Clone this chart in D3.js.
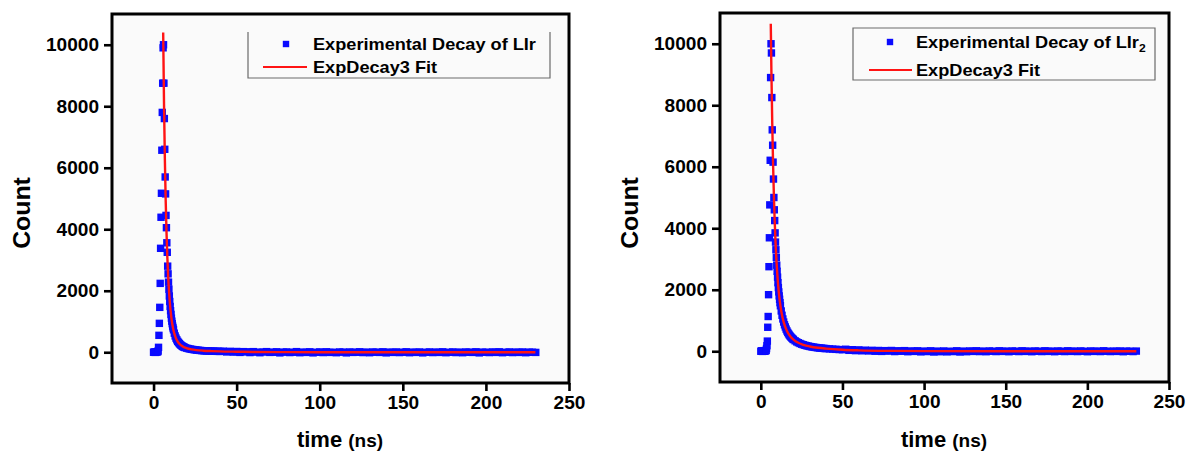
<!DOCTYPE html>
<html>
<head>
<meta charset="utf-8">
<script src="https://cdn.jsdelivr.net/npm/d3@7"></script>
<style>
  html, body { margin: 0; padding: 0; background: #fff; }
  svg { display: block; }
  text { font-family: "Liberation Sans", Arial, sans-serif; font-weight: bold; fill: #000; }
</style>
</head>
<body>
<svg id="chart" width="1186" height="452"></svg>
<script>
// Tick values shared by both panels
const xTicks = [0, 50, 100, 150, 200, 250];
const yTicks = [0, 2000, 4000, 6000, 8000, 10000];

// Legend entries
const lirLegend = ["Experimental Decay of LIr", "ExpDecay3 Fit"];
const lir2Legend = ["Experimental Decay of LIr", "ExpDecay3 Fit"];

// Experimental decay of LIr: [time (ns), count]
const lirPoints = [
  [0,0],[0.5,10],[1,-5],[1.5,15],[2,5],[2.5,15],[2.75,40],[3,160],[3.25,550],[3.5,940],
  [3.75,1460],[4,2240],[4.25,3380],[4.5,4390],[4.75,5170],[5,6570],[5.25,7800],[5.5,8750],[5.75,9900],
  [6,10000],[6.25,8750],[6.5,7600],[6.75,6600],[7,5700],[7.25,5150],[7.5,4450],[7.75,4050],[8,3560],
  [8.25,3250],[8.5,2800],[8.75,2550],[9,2280],[9.25,2050],[9.5,1830],[9.75,1650],[10,1490],[10.25,1350],
  [10.5,1230],[10.75,1110],[11,1010],[11.25,930],[11.5,850],[11.75,790],[12,730],[12.5,620],[13,530],
  [13.5,460],[14,405],[14.5,355],[15,320],[15.5,285],[16,255],[16.5,230],[17,210],[17.5,190],[18,175],
  [18.5,162],[19,150],[20,132],[21,118],[22,105],[23,95],[24,86],
  [25,78],[26,70],[27,64],[28,58],[29,54],[30,50],[31,47],[32,44],[33,41],[34,38],[35,36],[36,34],[37,32],[38,30],[39,29],[40,27],
  [42,35],[44,10],[46,30],[48,5],[50,25],[52,-5],[54,20],[56,15],[58,-10],[60,20],[62,5],[64,-15],
  [66,10],[68,20],[70,-5],[72,0],[74,15],[76,-20],[78,5],[80,10],[82,-10],[84,0],[86,20],[88,-15],
  [90,5],[92,-5],[94,15],[96,-20],[98,0],[100,10],[102,-10],[104,15],[106,-5],[108,0],[110,-15],
  [112,10],[114,5],[116,-20],[118,10],[120,-5],[122,0],[124,15],[126,-10],[128,5],[130,-15],[132,10],
  [134,0],[136,-5],[138,15],[140,-20],[142,5],[144,-5],[146,10],[148,-10],[150,0],[152,15],[154,-15],
  [156,5],[158,-5],[160,10],[162,-20],[164,0],[166,10],[168,-10],[170,5],[172,-5],[174,15],[176,-15],
  [178,0],[180,10],[182,-10],[184,5],[186,-15],[188,10],[190,0],[192,-5],[194,15],[196,-20],[198,5],
  [200,0],[202,-10],[204,10],[206,-5],[208,15],[210,-15],[212,0],[214,10],[216,-10],[218,5],[220,-5],
  [222,10],[224,-15],[226,5],[228,0],[230,-5]
];

// ExpDecay3 fit of LIr
const lirFit = [
  [5.8,10400],[6.3,8081],[6.8,6308],[7.3,4948],[7.8,3900],[8.3,3093],[8.8,2471],[9.8,1612],
  [10.8,1089],[11.8,762],[12.8,554],[13.8,418],[15.8,261],[17.8,180],[19.8,135],[22.8,94],
  [25.8,70],[29.8,51],[34.8,37],[39.8,27],[49.8,17],[59.8,10],[79.8,4],[99.8,1],[149.8,0],[229.8,0]
];

// Experimental decay of LIr2: [time (ns), count]
const lir2Points = [
  [0,0],[0.5,15],[1,-5],[1.5,10],[2,20],[2.5,0],[3,15],[3.25,30],[3.5,90],[3.75,180],[4,330],
  [4.25,780],[4.5,1130],[4.75,1840],[5,2750],[5.25,3690],[5.5,4760],[5.75,6210],[6,8900],[6.25,10000],
  [6.5,9700],[6.75,8250],[7,7200],[7.25,6700],[7.5,6150],[7.75,5600],[8,5000],[8.25,4600],[8.5,4250],
  [8.75,3850],[9,3550],[9.25,3300],[9.5,3050],[9.75,2800],[10,2600],[10.25,2410],[10.5,2230],[10.75,2070],
  [11,1930],[11.25,1800],[11.5,1690],[11.75,1580],[12,1480],[12.5,1310],[13,1170],[13.5,1050],[14,950],
  [14.5,860],[15,790],[15.5,720],[16,660],[16.5,610],[17,565],[17.5,525],[18,490],[18.5,458],
  [19,430],[19.5,404],[20,380],[21,340],[22,305],[23,278],[24,252],[25,230],[26,212],[27,195],[28,180],[29,168],
  [30,156],[31,145],[32,135],[33,127],[34,120],[35,113],[36,106],[37,100],[38,95],[39,90],[40,86],
  [42,78],[44,70],[46,62],[48,56],[50,50],
  [52,65],[54,30],[56,50],[58,20],[60,45],[62,15],[64,35],[66,10],[68,30],[70,0],[72,25],[74,-5],
  [76,20],[78,5],[80,25],[82,-10],[84,15],[86,0],[88,20],[90,-15],[92,10],[94,-5],[96,15],[98,-20],
  [100,5],[102,-10],[104,15],[106,-25],[108,5],[110,-15],[112,10],[114,-20],[116,0],[118,-10],[120,15],
  [122,-25],[124,5],[126,-15],[128,10],[130,-5],[132,15],[134,-10],[136,5],[138,-15],[140,10],[142,0],
  [144,-10],[146,15],[148,-5],[150,5],[152,-15],[154,10],[156,0],[158,-10],[160,15],[162,-5],[164,5],
  [166,-15],[168,10],[170,0],[172,-10],[174,15],[176,-5],[178,5],[180,-15],[182,10],[184,0],[186,-10],
  [188,15],[190,-5],[192,5],[194,-10],[196,10],[198,0],[200,-15],[202,10],[204,-5],[206,5],[208,-10],
  [210,15],[212,0],[214,-10],[216,5],[218,-5],[220,10],[222,-15],[224,5],[226,0],[228,-10],[230,5]
];

// ExpDecay3 fit of LIr2
const lir2Fit = [
  [6.1,10650],[6.5,9042],[7,7408],[7.5,6107],[8,5066],[8.5,4233],[9,3563],[10,2580],[11,1926],
  [12,1481],[13,1171],[14,947],[16,660],[18,490],[20,381],[23,277],[26,211],[30,156],[35,113],
  [40,86],[50,50],[60,30],[80,11],[100,4],[150,0],[230,0]
];

const svg = d3.select("#chart");
const BLUE = "#0a0aff";
const RED = "#ff1414";
const MARK = 7.4;

// Widen text horizontally to the proportions of the printed figure
function stretch(sel, k) {
  sel.each(function () {
    const len = this.getComputedTextLength();
    this.setAttribute("textLength", len * k);
    this.setAttribute("lengthAdjust", "spacingAndGlyphs");
  });
}

const panels = [
  {
    points: lirPoints, fit: lirFit, legend: lirLegend, sub: null,
    left: 112, right: 569, top: 14, bottom: 383,
    countX: 30, countY: 213, timeX: 340,
    box: { x0: 248, x1: 550, y0: 32, y1: 78, openTop: true },
    mark: { x: 286, y: 44 }, line: { x0: 263, x1: 307, y: 67 }, textX: 313, row1: 50, row2: 73
  },
  {
    points: lir2Points, fit: lir2Fit, legend: lir2Legend, sub: "2",
    left: 720, right: 1169, top: 13, bottom: 382,
    countX: 638, countY: 213, timeX: 944,
    box: { x0: 853, x1: 1155, y0: 28, y1: 80, openTop: false },
    mark: { x: 890, y: 42 }, line: { x0: 869, x1: 912, y: 70 }, textX: 916, row1: 48, row2: 76
  }
];

panels.forEach(p => {
  const x = d3.scaleLinear().domain([-25, 250]).range([p.left, p.right]);
  const y = d3.scaleLinear().domain([-1000, 11000]).range([p.bottom, p.top]);
  const g = svg.append("g");

  // plot area
  g.append("rect")
    .attr("x", p.left).attr("y", p.top)
    .attr("width", p.right - p.left).attr("height", p.bottom - p.top)
    .attr("fill", "#fafafa");

  // legend box
  const b = p.box;
  g.append("path")
    .attr("d", b.openTop
      ? `M${b.x0},${b.y0}V${b.y1}H${b.x1}V${b.y0}`
      : `M${b.x0},${b.y0}V${b.y1}H${b.x1}V${b.y0}Z`)
    .attr("fill", "none").attr("stroke", "#6a6a6a").attr("stroke-width", 1.2);

  // experimental points
  g.append("g").selectAll("rect").data(p.points).join("rect")
    .attr("x", d => x(d[0]) - MARK / 2).attr("y", d => y(d[1]) - MARK / 2)
    .attr("width", MARK).attr("height", MARK)
    .attr("fill", BLUE);

  // fitted curve
  g.append("path").datum(p.fit)
    .attr("d", d3.line().x(d => x(d[0])).y(d => y(d[1])).curve(d3.curveMonotoneX))
    .attr("fill", "none").attr("stroke", RED).attr("stroke-width", 2.4);

  // y axis
  const ya = g.append("g").attr("transform", `translate(${p.left},0)`)
    .call(d3.axisLeft(y).tickValues(yTicks).tickSize(8).tickPadding(5).tickFormat(d3.format("d")));
  ya.select(".domain").remove();
  ya.selectAll("line").attr("stroke", "#000").attr("stroke-width", 2.6);
  ya.attr("font-family", null).attr("font-size", null);
  ya.selectAll("text").attr("font-size", 18).attr("fill", "#000");
  stretch(ya.selectAll("text"), 1.06);

  // x axis
  const xa = g.append("g").attr("transform", `translate(0,${p.bottom})`)
    .call(d3.axisBottom(x).tickValues(xTicks).tickSize(8).tickPadding(5).tickFormat(d3.format("d")));
  xa.select(".domain").remove();
  xa.selectAll("line").attr("stroke", "#000").attr("stroke-width", 2.6);
  xa.attr("font-family", null).attr("font-size", null);
  xa.selectAll("text").attr("font-size", 18).attr("fill", "#000");
  stretch(xa.selectAll("text"), 1.06);

  // frame
  g.append("rect")
    .attr("x", p.left).attr("y", p.top)
    .attr("width", p.right - p.left).attr("height", p.bottom - p.top)
    .attr("fill", "none").attr("stroke", "#000").attr("stroke-width", 3);

  // axis titles
  const ct = g.append("text")
    .attr("transform", `translate(${p.countX},${p.countY}) rotate(-90)`)
    .attr("text-anchor", "middle").attr("font-size", 23).text("Count");
  stretch(ct, 1.08);

  const tt = g.append("text")
    .attr("x", p.timeX).attr("y", 447).attr("text-anchor", "middle").attr("font-size", 22);
  tt.append("tspan").text("time ");
  tt.append("tspan").attr("font-size", 19).text("(ns)");

  // legend entries
  g.append("rect")
    .attr("x", p.mark.x - 3.2).attr("y", p.mark.y - 3.2).attr("width", 6.4).attr("height", 6.4)
    .attr("fill", BLUE);
  g.append("line")
    .attr("x1", p.line.x0).attr("x2", p.line.x1).attr("y1", p.line.y).attr("y2", p.line.y)
    .attr("stroke", RED).attr("stroke-width", 2.2);

  const l1 = g.append("text").attr("x", p.textX).attr("y", p.row1).attr("font-size", 16.5);
  l1.append("tspan").text(p.legend[0]);
  if (p.sub) l1.append("tspan").attr("font-size", 11).attr("dy", 4).text(p.sub);
  stretch(l1, 1.1);

  const l2 = g.append("text").attr("x", p.textX).attr("y", p.row2).attr("font-size", 16.5)
    .text(p.legend[1]);
  stretch(l2, 1.1);
});
</script>
</body>
</html>
